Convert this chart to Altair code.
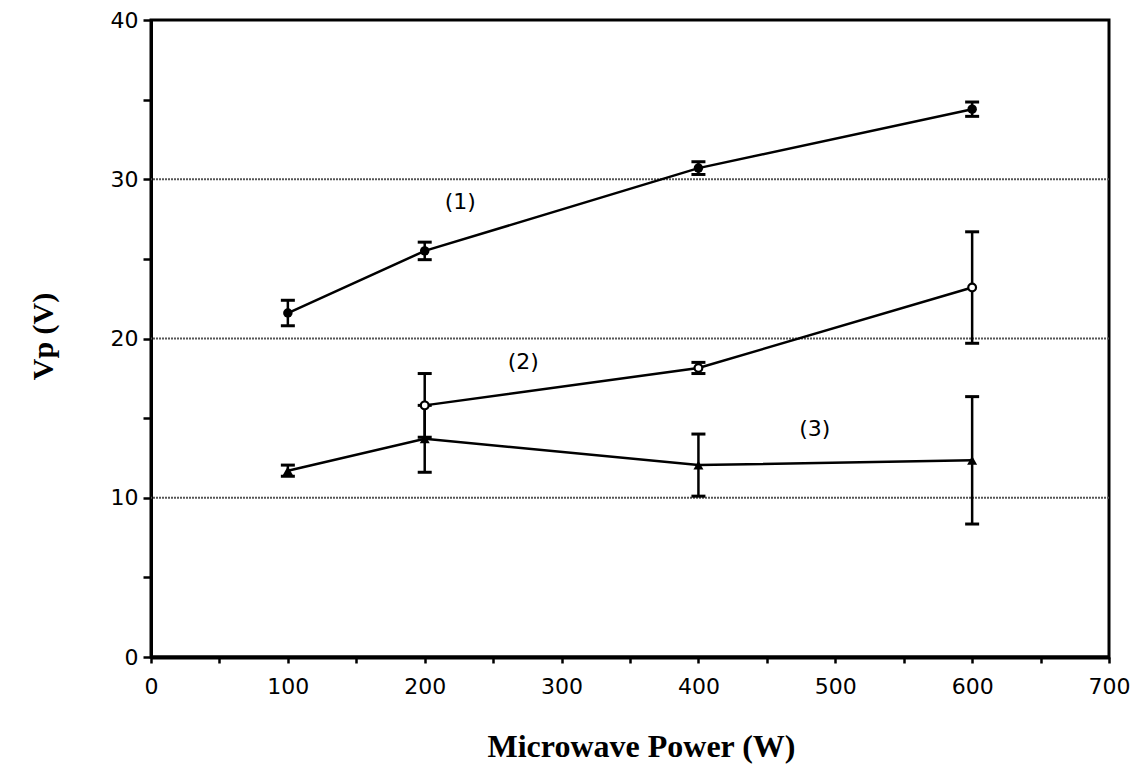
import altair as alt
import pandas as pd

# Series (1)
power1 = [100, 200, 400, 600]
vp1 = [21.6, 25.5, 30.7, 34.4]
err1 = [0.8, 0.55, 0.4, 0.45]
# Series (2)
power2 = [200, 400, 600]
vp2 = [15.8, 18.15, 23.2]
err2 = [2.0, 0.35, 3.5]
# Series (3)
power3 = [100, 200, 400, 600]
vp3 = [11.7, 13.7, 12.05, 12.35]
err3 = [0.35, 2.1, 1.95, 4.0]

grid_values = [10, 20, 30]
label_text = ["(1)", "(2)", "(3)"]
label_x = [226, 272, 485]
label_y = [28.6, 18.5, 14.3]

rows = []
for name, xs, ys, es in [("1", power1, vp1, err1), ("2", power2, vp2, err2), ("3", power3, vp3, err3)]:
    for x, y, e in zip(xs, ys, es):
        rows.append({"series": name, "power": x, "vp": y, "lo": y - e, "hi": y + e})
df = pd.DataFrame(rows)
grid_df = pd.DataFrame({"g": grid_values})
lab_df = pd.DataFrame({"t": label_text, "x": label_x, "y": label_y})

xscale = alt.Scale(domain=[0, 700], nice=False, zero=False)
yscale = alt.Scale(domain=[0, 40], nice=False, zero=False)

x_axis = alt.Axis(
    values=list(range(0, 701, 50)),
    labelExpr="datum.value % 100 == 0 ? datum.label : ''",
    format="d",
    grid=False,
    tickSize=6, tickWidth=2.5, tickColor="black",
    domainWidth=4, domainColor="black",
    labelFont="DejaVu Sans", labelFontSize=22, labelColor="black", labelPadding=13,
    labelFlush=False, labelOverlap=False,
    title="Microwave Power (W)",
    titleFont="Liberation Serif", titleFontSize=32, titleFontWeight="bold", titleColor="black",
    titleX=490, titleY=99, titleBaseline="alphabetic", titleAlign="center",
)
y_axis = alt.Axis(
    values=list(range(0, 41, 5)),
    labelExpr="datum.value % 10 == 0 ? datum.label : ''",
    format="d",
    grid=False,
    tickSize=8, tickWidth=2.5, tickColor="black",
    domainWidth=3, domainColor="black",
    labelFont="DejaVu Sans", labelFontSize=22, labelColor="black", labelPadding=5,
    labelFlush=False, labelOverlap=False,
    title="Vp (V)",
    titleFont="Liberation Serif", titleFontSize=30, titleFontWeight="bold", titleColor="black",
    titleX=-108, titleY=316, titleAngle=270, titleAlign="center", titleBaseline="middle",
)


def X(field):
    return alt.X(field, type="quantitative", scale=xscale, axis=x_axis)


def Y(field):
    return alt.Y(field, type="quantitative", scale=yscale, axis=y_axis)


grid = alt.Chart(grid_df).mark_rule(color="#555555", strokeWidth=2, strokeDash=[2, 1]).encode(
    y=Y("g")
)

base = alt.Chart(df)
lines = base.mark_line(color="black", strokeWidth=2.5).encode(
    x=X("power"), y=Y("vp"), detail="series:N"
)
bars = base.mark_rule(color="black", strokeWidth=2.5).encode(
    x=X("power"), y=Y("lo"), y2="hi:Q"
)
cap_lo = base.mark_tick(color="black", orient="horizontal", size=14, thickness=3, opacity=1).encode(
    x=X("power"), y=Y("lo")
)
cap_hi = base.mark_tick(color="black", orient="horizontal", size=14, thickness=3, opacity=1).encode(
    x=X("power"), y=Y("hi")
)
pts1 = base.transform_filter("datum.series == '1'").mark_point(
    shape="circle", filled=True, color="black", size=90, opacity=1
).encode(x=X("power"), y=Y("vp"))
pts2 = base.transform_filter("datum.series == '2'").mark_point(
    shape="circle", filled=False, fill="white", stroke="black", strokeWidth=2.2, size=60, opacity=1
).encode(x=X("power"), y=Y("vp"))
pts3 = base.transform_filter("datum.series == '3'").mark_point(
    shape="triangle-up", filled=True, color="black", size=100, opacity=1
).encode(x=X("power"), y=Y("vp"))

labels = alt.Chart(lab_df).mark_text(
    font="DejaVu Sans", fontSize=22, color="black", align="center", baseline="middle"
).encode(x=X("x"), y=Y("y"), text="t:N")

chart = alt.layer(grid, lines, bars, cap_lo, cap_hi, pts1, pts2, pts3, labels).properties(
    width=958, height=637,
    autosize=alt.AutoSizeParams(type="none"),
    padding={"left": 143, "top": 12, "right": 24, "bottom": 111},
    background="white",
).configure_view(stroke="black", strokeWidth=3)

chart.save("out.html", embed_options={"renderer": "svg", "actions": False})
